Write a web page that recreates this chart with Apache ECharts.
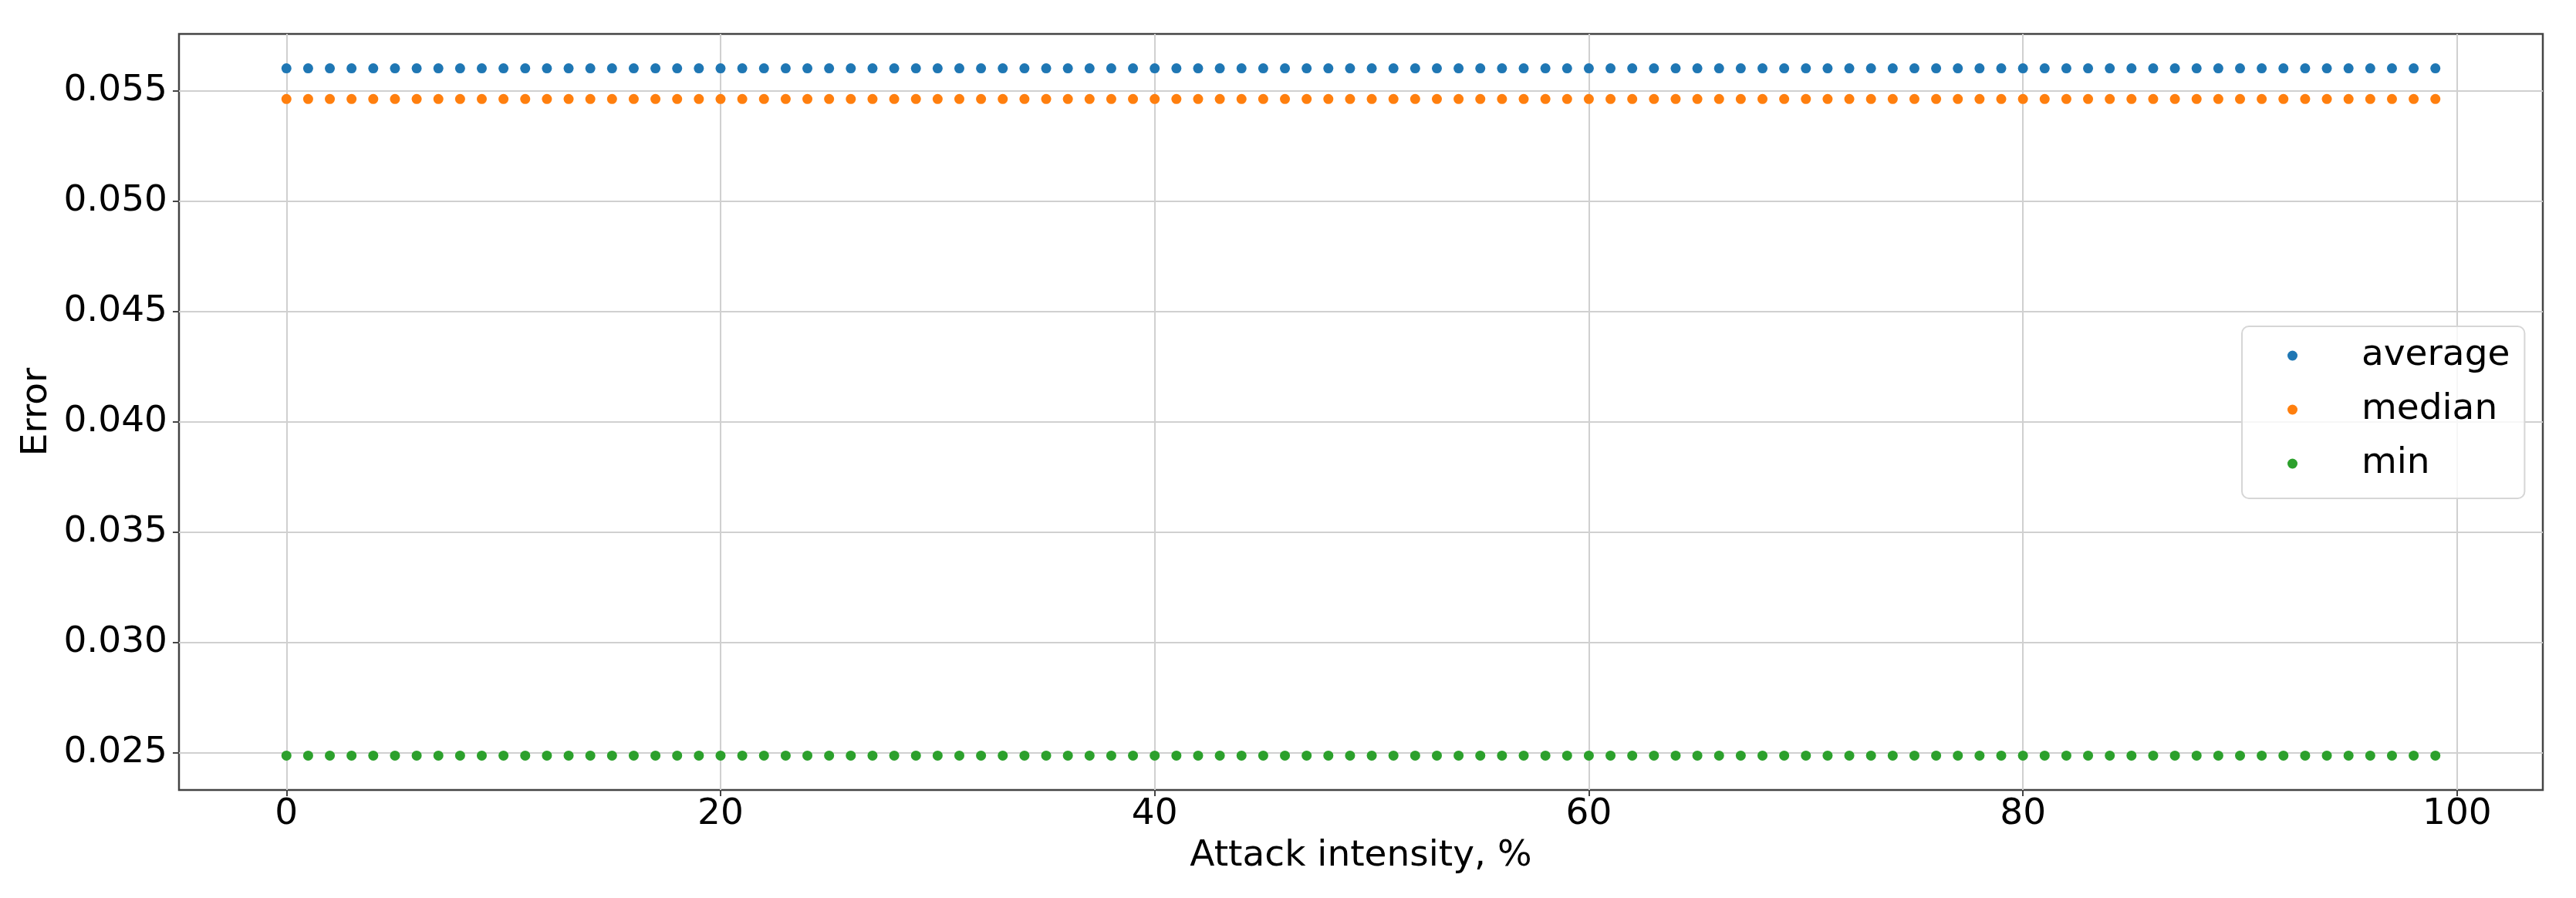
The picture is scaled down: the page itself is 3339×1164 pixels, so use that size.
<!DOCTYPE html>
<html>
<head>
<meta charset="utf-8">
<title>Error vs attack intensity</title>
<script src="https://cdn.jsdelivr.net/npm/echarts@6/dist/echarts.min.js"></script>
<style>
  html, body { margin: 0; padding: 0; background: #fff; }
  #main { width: 3339px; height: 1164px; }
</style>
</head>
<body>
<div id="main"></div>
<script>
// attack intensity, %
const intensity = [
  0, 1, 2, 3, 4, 5, 6, 7, 8, 9,
  10, 11, 12, 13, 14, 15, 16, 17, 18, 19,
  20, 21, 22, 23, 24, 25, 26, 27, 28, 29,
  30, 31, 32, 33, 34, 35, 36, 37, 38, 39,
  40, 41, 42, 43, 44, 45, 46, 47, 48, 49,
  50, 51, 52, 53, 54, 55, 56, 57, 58, 59,
  60, 61, 62, 63, 64, 65, 66, 67, 68, 69,
  70, 71, 72, 73, 74, 75, 76, 77, 78, 79,
  80, 81, 82, 83, 84, 85, 86, 87, 88, 89,
  90, 91, 92, 93, 94, 95, 96, 97, 98, 99
]

const averageErr = [
  0.05603, 0.05603, 0.05603, 0.05603, 0.05603, 0.05603, 0.05603, 0.05603, 0.05603, 0.05603,
  0.05603, 0.05603, 0.05603, 0.05603, 0.05603, 0.05603, 0.05603, 0.05603, 0.05603, 0.05603,
  0.05603, 0.05603, 0.05603, 0.05603, 0.05603, 0.05603, 0.05603, 0.05603, 0.05603, 0.05603,
  0.05603, 0.05603, 0.05603, 0.05603, 0.05603, 0.05603, 0.05603, 0.05603, 0.05603, 0.05603,
  0.05603, 0.05603, 0.05603, 0.05603, 0.05603, 0.05603, 0.05603, 0.05603, 0.05603, 0.05603,
  0.05603, 0.05603, 0.05603, 0.05603, 0.05603, 0.05603, 0.05603, 0.05603, 0.05603, 0.05603,
  0.05603, 0.05603, 0.05603, 0.05603, 0.05603, 0.05603, 0.05603, 0.05603, 0.05603, 0.05603,
  0.05603, 0.05603, 0.05603, 0.05603, 0.05603, 0.05603, 0.05603, 0.05603, 0.05603, 0.05603,
  0.05603, 0.05603, 0.05603, 0.05603, 0.05603, 0.05603, 0.05603, 0.05603, 0.05603, 0.05603,
  0.05603, 0.05603, 0.05603, 0.05603, 0.05603, 0.05603, 0.05603, 0.05603, 0.05603, 0.05603
]

const medianErr = [
  0.05464, 0.05464, 0.05464, 0.05464, 0.05464, 0.05464, 0.05464, 0.05464, 0.05464, 0.05464,
  0.05464, 0.05464, 0.05464, 0.05464, 0.05464, 0.05464, 0.05464, 0.05464, 0.05464, 0.05464,
  0.05464, 0.05464, 0.05464, 0.05464, 0.05464, 0.05464, 0.05464, 0.05464, 0.05464, 0.05464,
  0.05464, 0.05464, 0.05464, 0.05464, 0.05464, 0.05464, 0.05464, 0.05464, 0.05464, 0.05464,
  0.05464, 0.05464, 0.05464, 0.05464, 0.05464, 0.05464, 0.05464, 0.05464, 0.05464, 0.05464,
  0.05464, 0.05464, 0.05464, 0.05464, 0.05464, 0.05464, 0.05464, 0.05464, 0.05464, 0.05464,
  0.05464, 0.05464, 0.05464, 0.05464, 0.05464, 0.05464, 0.05464, 0.05464, 0.05464, 0.05464,
  0.05464, 0.05464, 0.05464, 0.05464, 0.05464, 0.05464, 0.05464, 0.05464, 0.05464, 0.05464,
  0.05464, 0.05464, 0.05464, 0.05464, 0.05464, 0.05464, 0.05464, 0.05464, 0.05464, 0.05464,
  0.05464, 0.05464, 0.05464, 0.05464, 0.05464, 0.05464, 0.05464, 0.05464, 0.05464, 0.05464
]

const minErr = [
  0.02488, 0.02488, 0.02488, 0.02488, 0.02488, 0.02488, 0.02488, 0.02488, 0.02488, 0.02488,
  0.02488, 0.02488, 0.02488, 0.02488, 0.02488, 0.02488, 0.02488, 0.02488, 0.02488, 0.02488,
  0.02488, 0.02488, 0.02488, 0.02488, 0.02488, 0.02488, 0.02488, 0.02488, 0.02488, 0.02488,
  0.02488, 0.02488, 0.02488, 0.02488, 0.02488, 0.02488, 0.02488, 0.02488, 0.02488, 0.02488,
  0.02488, 0.02488, 0.02488, 0.02488, 0.02488, 0.02488, 0.02488, 0.02488, 0.02488, 0.02488,
  0.02488, 0.02488, 0.02488, 0.02488, 0.02488, 0.02488, 0.02488, 0.02488, 0.02488, 0.02488,
  0.02488, 0.02488, 0.02488, 0.02488, 0.02488, 0.02488, 0.02488, 0.02488, 0.02488, 0.02488,
  0.02488, 0.02488, 0.02488, 0.02488, 0.02488, 0.02488, 0.02488, 0.02488, 0.02488, 0.02488,
  0.02488, 0.02488, 0.02488, 0.02488, 0.02488, 0.02488, 0.02488, 0.02488, 0.02488, 0.02488,
  0.02488, 0.02488, 0.02488, 0.02488, 0.02488, 0.02488, 0.02488, 0.02488, 0.02488, 0.02488
]

const xTicks = [0, 20, 40, 60, 80, 100]
const yTicks = [0.025, 0.030, 0.035, 0.040, 0.045, 0.050, 0.055]

const seriesNames = ['average', 'median', 'min']
const colors = ['#1f77b4', '#ff7f0e', '#2ca02c']

const FONT = 'DejaVu Sans'
const FS = 47

function pairs(ys) {
  return intensity.map((x, i) => [x, ys[i]])
}

const chart = echarts.init(document.getElementById('main'), null, { renderer: 'canvas' })

chart.setOption({
  animation: false,
  backgroundColor: '#ffffff',
  textStyle: { fontFamily: FONT, color: '#000' },
  grid: {
    left: 232,
    right: 43,
    top: 44,
    bottom: 140,
    show: true,
    borderColor: '#444',
    borderWidth: 2.5,
    outerBoundsMode: 'none'
  },
  legend: {
    left: 2906,
    top: 423,
    orient: 'vertical',
    data: seriesNames,
    icon: 'circle',
    itemWidth: 13,
    itemHeight: 13,
    itemGap: 20,
    padding: [13, 19, 20, 59],
    backgroundColor: 'rgba(255,255,255,0.8)',
    borderColor: '#d6d6d6',
    borderWidth: 2,
    borderRadius: 9,
    itemStyle: { opacity: 1 },
    textStyle: {
      fontFamily: FONT,
      fontSize: FS,
      color: '#000',
      lineHeight: 50,
      padding: [0, 0, 0, 78]
    }
  },
  xAxis: {
    type: 'value',
    min: -4.95,
    max: 103.95,
    name: 'Attack intensity, %',
    nameLocation: 'middle',
    nameGap: 62,
    nameTextStyle: { fontFamily: FONT, fontSize: FS, color: '#000' },
    axisLine: { show: false, onZero: false },
    axisTick: {
      show: true,
      length: 8,
      customValues: xTicks,
      lineStyle: { color: '#444', width: 2 }
    },
    axisLabel: {
      customValues: xTicks,
      margin: 8,
      fontFamily: FONT,
      fontSize: FS,
      color: '#000',
      formatter: v => String(Math.round(v))
    },
    splitLine: {
      show: true,
      lineStyle: { color: '#d0d0d0', width: 2 }
    }
  },
  yAxis: {
    type: 'value',
    min: 0.02332,
    max: 0.05759,
    name: 'Error',
    nameLocation: 'middle',
    nameGap: 149,
    nameTextStyle: { fontFamily: FONT, fontSize: FS, color: '#000' },
    axisLine: { show: false, onZero: false },
    axisTick: {
      show: true,
      length: 8,
      customValues: yTicks,
      lineStyle: { color: '#444', width: 2 }
    },
    axisLabel: {
      customValues: yTicks,
      margin: 15,
      fontFamily: FONT,
      fontSize: FS,
      color: '#000',
      formatter: v => v.toFixed(3)
    },
    splitLine: {
      show: true,
      lineStyle: { color: '#d0d0d0', width: 2 }
    }
  },
  series: [
    {
      name: seriesNames[0],
      type: 'scatter',
      symbol: 'circle',
      symbolSize: 13,
      itemStyle: { color: colors[0], opacity: 1 },
      data: pairs(averageErr)
    },
    {
      name: seriesNames[1],
      type: 'scatter',
      symbol: 'circle',
      symbolSize: 13,
      itemStyle: { color: colors[1], opacity: 1 },
      data: pairs(medianErr)
    },
    {
      name: seriesNames[2],
      type: 'scatter',
      symbol: 'circle',
      symbolSize: 13,
      itemStyle: { color: colors[2], opacity: 1 },
      data: pairs(minErr)
    }
  ]
})
</script>
</body>
</html>
